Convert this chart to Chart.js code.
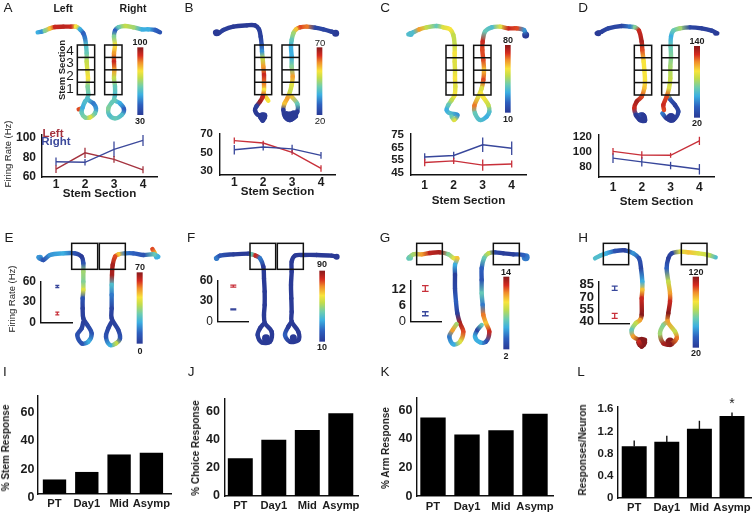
<!DOCTYPE html>
<html><head><meta charset="utf-8">
<style>
html,body{margin:0;padding:0;background:#fff;width:752px;height:515px;overflow:hidden;font-family:"Liberation Sans",Arial,sans-serif}
canvas{position:absolute}
.t{position:absolute;transform:translate(-50%,-50%);white-space:nowrap;color:#1c1c1c;line-height:1;will-change:transform}
.r{transform:translate(-50%,-50%) rotate(-90deg);will-change:auto}
</style>
<script src="https://cdn.jsdelivr.net/npm/chart.js@4"></script>
</head><body>
<script>
/* ---------- values ---------- */
const stemSections = [1,2,3,4];
const groups = ['PT','Day1','Mid','Asymp'];

const aLeft=[67.7,84.6,77.8,67],  aLeftErr=[4,5.4,3.5,3.6],  aRight=[75.4,74.8,88.3,97.5], aRightErr=[4.3,3.4,8,5.7];
const bLeft=[62.8,60.3,50.3,33],  bLeftErr=[3.3,2.5,2.5,3.5], bRight=[53,56,54,47],        bRightErr=[5,3.7,4.5,3.7];
const cLeft=[53,54.2,50.9,51.8],  cLeftErr=[3,2.5,4.5,2.8],  cRight=[57.3,58.5,67,64.3],   cRightErr=[3,3,5.8,5.4];
const dLeft=[101,96,95.7,115],    dLeftErr=[4.5,5,3.3,5.5],  dRight=[92,87,82,77],         dRightErr=[6.5,6.3,5,7];
const aTicks=[60,80,100], bTicks=[30,50,70], cTicks=[45,55,65,75], dTicks=[80,100,120];

const eVals=[13.3,52.3], eErrs=[2,1.5], eTicks=[0,30,60];
const fVals=[51.8,18.1], fErrs=[1.5,.8], fTicks=[0,30,60];
const gVals=[12.3,2.8],  gErrs=[1.1,.75], gTicks=[0,6,12];
const hVals=[47,80.7],   hErrs=[3,2.5],  hTicks=[40,55,70,85];

const iVals=[10,15.3,27.6,28.8], jVals=[26.7,40,46.8,58.9], kVals=[54.4,42.5,45.6,57], lVals=[.927,1.007,1.243,1.473];
const lTops=[1.036,1.122,1.393,1.542];
const iTicks=[0,20,40,60], jTicks=[0,20,40,60], kTicks=[0,20,40,60], lTicks=[0,.4,.8,1.2,1.6];

/* trails: [x, y, heat 0..1], in each panel's own map units */
const trailA=[
[[113,97,.3],[125,95,.25],[135,92,.45],[150,85,.7],[165,81,.9],[190,80,.92],[213,80,.9],[228,80,.65],[240,88,.3],[250,100,.15],[255,115,.2],[258,135,.35],[260,160,.4],[260,185,.55],[262,210,.6],[264,235,.65],[263,260,.45],[265,285,.4],[262,297,.35],[280,310,.2],[288,325,.25],[285,340,.4],[270,352,.6],[255,352,.45],[245,338,.4],[248,322,.3],[255,305,.35],[262,297,.35]],
[[480,97,.1],[465,90,.15],[445,88,.3],[425,88,.3],[400,82,.5],[375,78,.55],[355,82,.4],[345,92,.15],[342,110,.45],[345,135,.65],[342,160,.75],[342,185,.9],[343,210,.75],[342,235,.55],[345,260,.4],[345,285,.35],[343,300,.4],[360,310,.3],[372,328,.15],[365,345,.35],[345,355,.4],[328,345,.35],[325,325,.45],[335,308,.4],[343,300,.4]],
[[236,328,.85],[245,325,.8]]];
const trailB=[
[[75,97,0],[85,100,0],[100,90,.02],[130,80,0],[170,76,0],[195,76,0],[207,88,.02],[212,110,.02],[215,135,.1],[216,155,.25],[218,175,.55],[220,200,.75],[222,225,.9],[222,250,.8],[222,270,.65],[218,290,.9],[210,305,.95],[200,318,.02],[195,330,0],[205,345,0],[225,345,0],[218,362,0],[210,350,0]],
[[222,283,.7],[235,302,.65]],
[[440,100,0],[425,95,.02],[400,88,.05],[375,83,.05],[350,80,.8],[330,82,.85],[318,88,.7],[310,100,.5],[305,120,.4],[303,140,.3],[305,170,.3],[305,200,.45],[308,230,.75],[305,255,.6],[300,275,.55],[292,295,.75],[283,312,.7],[280,330,0],[285,350,0],[300,360,0],[318,348,0],[300,345,0],[290,340,0]],
[[305,290,.7],[322,312,.4],[322,335,0],[312,350,0]]];
const trailC=[
[[85,103,.35],[100,97,.35],[118,88,.75],[140,82,.55],[170,78,.4],[190,82,.6],[210,88,.65],[220,105,.55],[224,135,.55],[224,160,.65],[224,185,.6],[225,210,.6],[225,235,.65],[226,260,.6],[224,285,.65],[215,300,.55],[205,315,.4],[200,330,.3],[210,340,.35],[232,345,.25],[222,360,.6],[215,350,.4]],
[[438,108,0],[432,90,.25],[410,85,.85],[385,85,.9],[360,80,.6],[335,82,.35],[315,95,.4],[308,125,.9],[307,150,.85],[310,180,.85],[312,210,.7],[310,240,.85],[305,265,.6],[295,290,.6],[283,318,.8],[285,340,.4],[300,360,.35],[320,350,.3],[328,335,.35],[325,315,.55],[310,292,.65],[302,280,.65]]];
const trailD=[
[[95,100,0],[110,95,.02],[130,85,.05],[170,78,.05],[195,80,.2],[210,82,.45],[222,92,.9],[230,125,.95],[232,150,.85],[236,185,.65],[238,210,.65],[240,240,.65],[238,265,.7],[230,290,.85],[215,305,.95],[208,325,.9],[215,345,.1],[235,345,0],[240,362,0],[225,360,0],[212,345,0]],
[[457,100,0],[440,92,.03],[410,85,.02],[375,82,.05],[345,85,.5],[325,92,.4],[318,110,.3],[317,140,.4],[318,170,.45],[316,200,.5],[316,235,.55],[312,265,.6],[305,290,.85],[295,315,.9],[297,330,.85]],
[[292,340,.2],[305,355,0],[325,360,0],[340,335,.05],[330,315,.02],[315,297,.1],[310,285,.6]]];
const trailE=[
[[115,97,.25],[130,105,.1],[150,90,.25],[190,85,.3],[225,85,.1],[245,95,0],[250,115,.1],[250,140,.5],[250,170,.45],[250,195,.6],[248,220,.1],[248,250,.03],[250,280,.02],[262,300,.05],[275,325,.1],[265,350,.3],[245,355,.1],[232,330,.1],[245,310,.05],[250,290,.02]],
[[475,95,.3],[462,88,.4],[430,90,.1],[400,85,.15],[375,85,.2],[355,88,.7],[345,95,.85],[338,120,.95],[336,150,.95],[335,180,.35],[335,210,.2],[335,250,.05],[335,280,.02],[355,315,.05],[360,340,.1],[348,355,.55],[330,360,.3],[318,335,.1],[325,310,.05],[335,290,.02]],
[[457,72,.85],[465,85,.7]]];
const trailF=[
[[78,100,.2],[90,92,.1],[130,88,.02],[175,86,0],[185,88,.4],[197,92,.9],[210,100,.2],[220,125,0],[222,160,0],[224,200,0],[224,240,0],[222,270,0],[225,295,0],[245,320,0],[240,350,0],[215,352,0],[203,330,.02],[210,310,0],[222,295,0]],
[[440,95,0],[425,92,0],[380,90,0],[340,90,0],[315,92,0],[305,110,0],[305,140,0],[303,180,0],[304,220,0],[305,260,0],[305,290,0],[325,320,0],[325,345,0],[300,350,0],[285,330,.15],[295,305,0],[305,290,0]]];
const trailG=[
[[85,100,.4],[100,88,.5],[125,88,.75],[150,84,.92],[180,82,.95],[205,88,.45],[222,100,.6],[232,100,.7],[225,120,.3],[225,150,.02],[225,190,.05],[228,230,.15],[232,265,.03],[240,295,.95],[250,320,.85],[240,350,.6],[220,358,.3],[208,335,.2],[218,315,.75],[230,297,.5]],
[[440,100,.2],[430,90,.15],[400,88,.02],[370,85,.02],[345,82,.05],[325,85,.55],[312,100,.4],[305,130,.15],[305,165,.1],[305,205,.4],[308,240,.2],[310,270,.8],[318,295,.7],[328,320,.9],[318,350,.1],[300,352,.3],[285,335,.3],[292,315,.05],[305,300,.4]]];
const trailH=[
[[90,100,.35],[105,92,.35],[125,85,.3],[150,78,.1],[180,76,.03],[205,85,.25],[222,100,.1],[228,130,.05],[232,170,.3],[232,195,.7],[230,220,.9],[230,270,1],[225,285,.75],[212,295,.55],[200,315,.4],[205,335,.75],[225,345,1],[240,345,1],[230,365,1],[222,350,.9]],
[[452,97,.35],[430,90,.55],[400,85,.6],[370,82,.7],[345,80,.6],[320,85,.05],[310,100,.02],[305,130,.15],[310,170,.55],[315,205,.75],[315,230,.9],[310,265,1],[308,290,.75],[330,320,.55],[335,340,.8],[315,358,1],[295,355,.95],[285,325,.5],[295,300,.45],[308,290,.75]]];

/* thicker patches of the trails: [x, y, heat 0..1, radius] */
const blobsB=[[80,98,0,3.5],[437,100,0,3.5],[218,350,0,4.5],[300,350,0,5.5],[312,343,0,4]];
const blobsC=[[437,105,0,3.5],[92,102,.33,3]];
const blobsD=[[100,100,0,3],[230,352,0,5],[318,354,0,5],[452,100,0,2.5]];
const blobsE=[[120,98,.25,3],[470,95,.3,2.8]];
const blobsF=[[440,95,0,3],[228,340,0,4],[310,338,0,3.5],[80,100,.2,2.6]];
const blobsG=[[437,97,.2,4],[90,98,.4,3]];
const blobsH=[[230,352,1,5.5],[315,352,1,4.8]];

/* ---------- helpers ---------- */
const FF='"Liberation Sans"';
const RED='#c8303a', BLUE='#38479b', DRED='#a5333f', DBLUE='#3d4a9c';
const stops=[[0,[42,58,150]],[.15,[45,95,190]],[.3,[60,175,225]],[.42,[110,205,175]],[.55,[195,220,75]],[.65,[248,228,60]],[.78,[240,140,42]],[.88,[214,43,32]],[1,[135,26,28]]];
function heat(h){
  for(let i=1;i<stops.length;i++){ if(h<=stops[i][0]){
    const a=stops[i-1],b=stops[i],f=(h-a[0])/(b[0]-a[0]);
    return 'rgb('+a[1].map((v,k)=>Math.round(v+(b[1][k]-v)*f)).join(',')+')';
  }}
  return 'rgb(135,26,28)';
}
function cv(l,t,w,h){const c=document.createElement('canvas');c.width=w;c.height=h;c.style.left=l+'px';c.style.top=t+'px';c.style.width=w+'px';c.style.height=h+'px';document.body.appendChild(c);return c;}
function txt(s,x,y,o={}){const d=document.createElement('div');d.className='t'+(o.rot?' r':'');d.textContent=s;d.style.left=x+'px';d.style.top=y+'px';d.style.fontSize=(o.size||10)+'px';d.style.fontWeight=o.bold===false?'400':'700';if(o.color)d.style.color=o.color;document.body.appendChild(d);}

const mapPlugin={id:'mapMarks',afterDatasetsDraw(ch,a,o){
  const c=ch.ctx,X=ch.scales.x,Y=ch.scales.y;
  (o.bars||[]).forEach(b=>{
    const x0=X.getPixelForValue(b[0]),x1=X.getPixelForValue(b[1]),y0=Y.getPixelForValue(b[2]),y1=Y.getPixelForValue(b[3]);
    const g=c.createLinearGradient(0,y1,0,y0);
    stops.forEach(s=>g.addColorStop(s[0],heat(s[0])));
    c.fillStyle=g;c.fillRect(x0,y0,x1-x0,y1-y0);
  });
  c.strokeStyle='#111';c.lineWidth=1.5;
  (o.boxes||[]).forEach(b=>{
    const x0=X.getPixelForValue(b[0]),x1=X.getPixelForValue(b[1]),y0=Y.getPixelForValue(b[2]),y1=Y.getPixelForValue(b[3]);
    c.strokeRect(x0,y0,x1-x0,y1-y0);
    for(let i=1;i<b[4];i++){const yy=y0+(y1-y0)*i/b[4];c.beginPath();c.moveTo(x0,yy);c.lineTo(x1,yy);c.stroke();}
  });
}};
function mapChart(l,t,w,h,trails,bars,boxes,blobs){
  const sets=trails.map(tr=>({
      data:tr.map(p=>({x:p[0],y:p[1]})),showLine:true,pointRadius:0,borderWidth:4.4,tension:.35,borderCapStyle:'round',borderJoinStyle:'round',borderColor:heat(tr[0][2]),
      segment:{borderColor:s=>{const g=s.chart.ctx.createLinearGradient(s.p0.x,s.p0.y,s.p1.x,s.p1.y);g.addColorStop(0,heat(tr[s.p0DataIndex][2]));g.addColorStop(1,heat(tr[s.p1DataIndex][2]));return g;}}
    }));
  if(blobs)sets.push({data:blobs.map(p=>({x:p[0],y:p[1]})),showLine:false,borderWidth:0,
      pointRadius:blobs.map(p=>p[3]),pointBackgroundColor:blobs.map(p=>heat(p[2])),pointBorderWidth:0});
  new Chart(cv(l,t,w,h),{type:'scatter',plugins:[mapPlugin],data:{datasets:sets},
    options:{responsive:false,animation:false,events:[],layout:{padding:0,autoPadding:false},
      scales:{x:{type:'linear',display:false,min:0,max:w*3},y:{type:'linear',display:false,reverse:true,min:0,max:h*3}},
      plugins:{legend:{display:false},tooltip:{enabled:false},mapMarks:{bars,boxes}}}});
}
const errPlugin={id:'errs',afterDatasetsDraw(ch){
  const c=ch.ctx,Y=ch.scales.y,X=ch.scales.x;
  ch.data.datasets.forEach(ds=>{
    if(!ds.errs&&!ds.tops)return;
    c.strokeStyle=ds.errColor||ds.borderColor;c.lineWidth=ds.errWidth||1.3;
    ds.data.forEach((p,i)=>{
      const x=X.getPixelForValue(p.x);
      const hi=ds.tops?ds.tops[i]:p.y+ds.errs[i], lo=ds.tops?p.y:p.y-ds.errs[i];
      const a=Y.getPixelForValue(hi),b=Y.getPixelForValue(lo);
      c.beginPath();c.moveTo(x,a);c.lineTo(x,b);
      if(ds.cap){c.moveTo(x-ds.cap,a);c.lineTo(x+ds.cap,a);c.moveTo(x-ds.cap,b);c.lineTo(x+ds.cap,b);}
      c.stroke();
    });
  });
}};
function yAxis(o){return {type:'linear',min:o.yMin,max:o.yMax,afterBuildTicks:s=>{s.ticks=o.yTicks.map(v=>({value:v}));},afterFit:s=>{s.width=o.yw;},
  grid:{display:false,drawTicks:false},border:{display:true,color:'#111',width:1.4},
  ticks:{autoSkip:false,maxRotation:0,padding:o.yPad,color:'#1c1c1c',labelOffset:o.yShift||0,callback:v=>o.yFmt?o.yFmt(v):String(v),
    font:c=>({family:FF,size:o.ySize,weight:(o.lightZero&&c.tick&&c.tick.value===0)?'normal':'bold'})}};}
function xAxis(o){return {type:'linear',offset:false,min:o.xMin,max:o.xMax,afterBuildTicks:s=>{s.ticks=(o.xTicks||[]).map(v=>({value:v}));},afterFit:s=>{s.height=o.xh;},
  grid:{display:false,drawTicks:false,offset:false},border:{display:true,color:'#111',width:1.4},
  title:o.title?{display:true,text:o.title,color:'#1c1c1c',padding:0,font:{family:FF,size:11.6,weight:'bold'}}:{display:false},
  ticks:{display:!!o.xTicks,autoSkip:false,maxRotation:0,padding:o.xPad||0,color:'#1c1c1c',callback:v=>o.xFmt?o.xFmt(v):String(v),font:{family:FF,size:o.xSize||12,weight:'bold'}}};}
function panel(type,o,datasets){
  const pad=8, xMin=1+(o.L-o.first)/o.step, xMax=1+(o.R-o.first)/o.step;
  o.xMin=xMin;o.xMax=xMax;
  new Chart(cv(o.L-o.yw,o.T-pad,o.R-o.L+o.yw+pad,o.B-o.T+pad+o.xh),{type,plugins:[errPlugin],data:{datasets},
    options:{responsive:false,animation:false,events:[],layout:{padding:{top:pad,right:pad,left:0,bottom:0}},
      scales:{x:xAxis(o),y:yAxis(o)},plugins:{legend:{display:false},tooltip:{enabled:false}}}});
}
const pts=(xs,ys)=>ys.map((y,i)=>({x:xs[i],y}));
function lineDs(name,vals,errs,color){return {label:name,data:pts(stemSections,vals),errs,borderColor:color,borderWidth:1.4,pointRadius:0,tension:0,showLine:true};}
function linePanel(o,left,leftErr,right,rightErr,cl,cb){
  o.xTicks=stemSections;o.title='Stem Section';o.yPad=o.yPad||7;
  panel('line',o,[lineDs('Right',right,rightErr,cb),lineDs('Left',left,leftErr,cl)]);
}
function insetPanel(o,vals,errs,cols){
  o.yPad=o.yPad||5;o.xh=12;
  panel('scatter',o,[0,1].map(i=>({data:[{x:1,y:vals[i]}],errs:[errs[i]],cap:o.cap,borderColor:cols[i],pointRadius:0,errWidth:1.3})));
}
function barPanel(o,vals,tops){
  const xs=[1,2,3,4];
  o.xTicks=xs;o.xFmt=v=>groups[v-1];o.xSize=11.2;o.ySize=o.ySize||12.5;
  panel('bar',o,[{data:pts(xs,vals),backgroundColor:'#000',barThickness:o.bw,tops,errColor:'#111',errWidth:1.4}]);
}

/* ---------- maps ---------- */
mapChart(0,0,190,215,trailA,[[412,430,142,345]],[[232,284,135,284,4],[314,366,135,284,4]]);
mapChart(190,0,190,215,trailB,[[380,397,142,345]],[[194,245,135,284,4],[276,328,135,284,4]],blobsB);
mapChart(380,0,190,215,trailC,[[375,392,135,338]],[[198,250,136,285,4],[281,333,136,285,4]],blobsC);
mapChart(565,0,187,215,trailD,[[387,405,138,353]],[[208,260,136,285,4],[290,342,136,285,4]],blobsD);
mapChart(0,225,190,135,trailE,[[410,428,142,356]],[[215,293,55,133,1],[298,376,55,133,1]],blobsE);
mapChart(190,225,190,135,trailF,[[388,405,137,350]],[[180,257,55,133,1],[262,340,55,133,1]],blobsF);
mapChart(380,225,190,135,trailG,[[370,388,155,373]],[[110,187,55,119,1],[340,418,55,119,1]],blobsG);
mapChart(565,225,187,135,trailH,[[383,402,155,368]],[[115,191,55,119,1],[349,426,55,119,1]],blobsH);

/* ---------- line panels ---------- */
linePanel({L:42,T:129,R:157,B:177,yw:42,xh:24,first:56,step:29,yMin:59.5,yMax:104,yTicks:aTicks,ySize:12,yPad:6,xPad:0},aLeft,aLeftErr,aRight,aRightErr,DRED,DBLUE);
linePanel({L:220,T:128,R:335,B:175,yw:42,xh:24,first:234.3,step:28.9,yMin:26,yMax:70,yTicks:bTicks,ySize:11.5,xPad:0},bLeft,bLeftErr,bRight,bRightErr,RED,BLUE);
linePanel({L:411,T:128,R:526,B:175,yw:42,xh:33,first:424.7,step:29,yMin:43,yMax:75.7,yTicks:cTicks,ySize:11.5,xPad:3.5},cLeft,cLeftErr,cRight,cRightErr,RED,BLUE);
linePanel({L:599,T:129,R:714,B:177,yw:42,xh:32,first:613,step:28.8,yMin:66.7,yMax:123,yTicks:dTicks,ySize:11.5,xPad:3},dLeft,dLeftErr,dRight,dRightErr,RED,BLUE);

/* ---------- inset panels ---------- */
insetPanel({L:41,T:277,R:72,B:323,yw:41,first:57.3,step:10,cap:2,yMin:0,yMax:60,yTicks:eTicks,ySize:12},eVals,eErrs,[RED,BLUE]);
insetPanel({L:218,T:276,R:248,B:322,yw:40,first:233.3,step:10,cap:3,yMin:0,yMax:60.5,yTicks:fTicks,ySize:12,lightZero:true},fVals,fErrs,[RED,BLUE]);
insetPanel({L:411,T:276,R:441,B:322,yw:40,first:425.3,step:10,cap:3.3,yMin:0,yMax:15.2,yTicks:gTicks,ySize:13,lightZero:true},gVals,gErrs,[RED,BLUE]);
insetPanel({L:599,T:277,R:629,B:324,yw:40,first:614.7,step:10,cap:3,yMin:38,yMax:88.6,yTicks:hTicks,ySize:13},hVals,hErrs,[RED,BLUE]);

/* ---------- bar panels ---------- */
barPanel({L:38,T:393,R:171,B:494,yw:38,xh:18,first:54.5,step:32.3,bw:22.7,yMin:0,yMax:69,yTicks:iTicks,yPad:3.5,yShift:3.7,xPad:3.4},iVals);
barPanel({L:225,T:394,R:358,B:496,yw:38,xh:18,first:240.3,step:33.5,bw:24.3,yMin:0,yMax:69.6,yTicks:jTicks,yPad:5,xPad:3.4},jVals);
barPanel({L:417,T:394,R:553,B:496,yw:38,xh:18,first:433,step:34,bw:24.7,yMin:0,yMax:68.2,yTicks:kTicks,yPad:4.5,yShift:.5,xPad:4.4},kVals);
barPanel({L:618,T:403,R:752,B:498,yw:38,xh:18,first:634.2,step:32.6,bw:24.3,yMin:0,yMax:1.652,yTicks:lTicks,yPad:4.5,ySize:11.5,xPad:3.4,yFmt:v=>v===0?'0':v.toFixed(1)},lVals,lTops);

/* ---------- text ---------- */
[['A',8,8],['B',189,8],['C',385,8],['D',583,8],['E',9,238],['F',191,238],['G',385,238],['H',583,238],['I',5,372],['J',191,372],['K',385,372],['L',581,372]]
  .forEach(p=>txt(p[0],p[1],p[2],{size:13.5,bold:false}));
txt('Left',63,8,{size:10.5});txt('Right',133,8,{size:10.5});
txt('Stem Section',61.7,70,{size:9.5,rot:true});
[['4',70,51],['3',70,63],['2',70,75.7],['1',70,89]].forEach(p=>txt(p[0],p[1],p[2],{size:13.5,bold:false}));
txt('Firing Rate (Hz)',7.6,154,{size:9.5,rot:true,bold:false});
txt('Firing Rate (Hz)',12,299,{size:9.5,rot:true,bold:false});
txt('Left',52.5,133.5,{size:11.5,color:DRED});txt('Right',56,142,{size:11.5,color:DBLUE});
[['100',140,41.7,1],['30',140,120.7,1],['70',319.5,42.7,0],['20',319.5,120.7,0],['80',507.8,40,1],['10',507.8,119.3,1],['140',697,40.7,1],['20',697,123.3,1],
 ['70',139.8,267.3,1],['0',139.8,350.7,1],['90',322,264,1],['10',322,347,1],['14',506.3,272.3,1],['2',506.3,355.7,1],['120',695.8,271.7,1],['20',695.8,353.3,1]]
  .forEach(p=>txt(p[0],p[1],p[2],{size:p[3]?9:9.5,bold:!!p[3]}));
txt('% Stem Response',6,447.8,{size:10,rot:true});
txt('% Choice Response',195.7,448.3,{size:10,rot:true});
txt('% Arm Response',386,448.3,{size:10,rot:true});
txt('Responses/Neuron',582.7,450.3,{size:10,rot:true});
txt('*',732.3,403,{size:14,bold:false});
</script>
</body></html>
